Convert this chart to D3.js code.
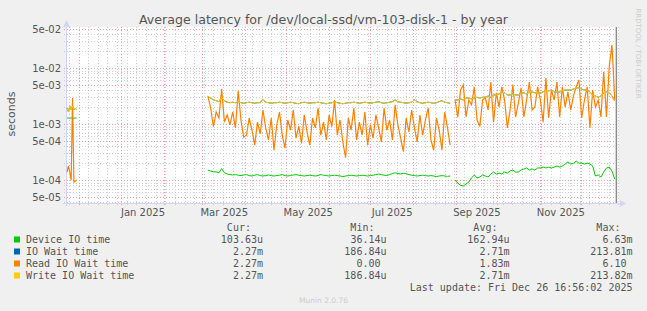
<!DOCTYPE html>
<html>
<head>
<meta charset="utf-8">
<script src="https://cdn.jsdelivr.net/npm/d3@7"></script>
<style>
  body { margin: 0; background: #f0f0f0; }
  svg { display: block; }
  text { font-family: "DejaVu Sans", sans-serif; fill: #555; }
  .mono { font-family: "DejaVu Sans Mono", monospace; font-size: 10px; }
</style>
</head>
<body>
<svg id="chart" width="647" height="311"></svg>
<script>
// three runs of data (the gaps have no samples)
const segStarts = ["2024-11-22T16:00", "2025-03-05T00:00", "2025-08-31T12:00"];
const segStepDays = [1, 2, 2];

// values in milliseconds, one array per run
const deviceIO = [
  [1.28, 1.28, 1.27, 1.28, 1.28, 1.27, 1.28, 1.28],
  [0.15, 0.145, 0.14, 0.14, 0.135, 0.16, 0.135, 0.128, 0.125, 0.123, 0.125, 0.122, 0.12, 0.123, 0.125, 0.12, 0.118, 0.122, 0.125, 0.12,
   0.118, 0.12, 0.123, 0.12, 0.118, 0.12, 0.122, 0.125, 0.12, 0.118, 0.12, 0.123, 0.125, 0.122, 0.12, 0.118, 0.12, 0.122, 0.12, 0.118,
   0.12, 0.125, 0.122, 0.12, 0.118, 0.12, 0.122, 0.12, 0.118, 0.115, 0.118, 0.12, 0.122, 0.12, 0.118, 0.12, 0.122, 0.12, 0.118, 0.12,
   0.122, 0.125, 0.128, 0.125, 0.122, 0.12, 0.125, 0.13, 0.135, 0.13, 0.128, 0.132, 0.13, 0.125, 0.122, 0.12, 0.118, 0.12, 0.122, 0.12,
   0.118, 0.12, 0.118, 0.115, 0.118, 0.12, 0.118, 0.116, 0.118],
  [0.1, 0.088, 0.081, 0.078, 0.085, 0.092, 0.109, 0.123, 0.109, 0.113, 0.123, 0.118, 0.113, 0.128, 0.139, 0.128, 0.133, 0.128, 0.139, 0.133,
   0.145, 0.151, 0.139, 0.139, 0.151, 0.157, 0.164, 0.151, 0.157, 0.151, 0.164, 0.164, 0.17, 0.164, 0.17, 0.164, 0.17, 0.178, 0.17, 0.178,
   0.193, 0.21, 0.193, 0.2, 0.218, 0.2, 0.2, 0.193, 0.2, 0.193, 0.178, 0.118, 0.123, 0.113, 0.139, 0.164, 0.17, 0.145, 0.104]
];

const readWait = [
  [0.139, 0.178, 0.139, 0.1, 2.9, 0.092, 0.096, 0.1],
  [3.16, 1.93, 0.9, 1.64, 1.28, 4.2, 1.08, 1.45, 0.96, 1.64, 0.85, 3.9, 1.18, 0.58, 0.63, 1.28, 0.78, 0.42, 1.08, 0.67,
   1.78, 0.85, 0.52, 1.28, 0.34, 0.96, 1.64, 0.63, 0.37, 1.18, 0.78, 1.78, 0.56, 0.92, 0.45, 1.45, 0.72, 0.42, 1.28, 0.85,
   1.93, 0.63, 1.08, 0.52, 1.45, 0.9, 2.68, 0.63, 1.18, 0.48, 0.25, 1.28, 0.78, 1.93, 0.52, 1.08, 0.63, 1.64, 0.42, 0.96,
   0.56, 1.45, 0.85, 0.48, 1.93, 0.78, 1.18, 0.52, 2.2, 0.96, 0.56, 0.32, 1.28, 0.72, 1.78, 0.85, 0.48, 1.45, 0.63, 1.18,
   1.93, 0.52, 0.34, 1.28, 0.78, 0.34, 1.64, 0.85, 0.42],
  [2.68, 1.33, 4.05, 5.0, 1.33, 2.68, 2.2, 4.6, 1.18, 0.9, 2.68, 3.0, 1.78, 5.6, 1.08, 3.6, 2.0, 4.6, 2.68, 0.85,
   1.78, 5.0, 1.33, 2.38, 4.4, 1.33, 2.68, 5.6, 1.78, 2.0, 4.6, 2.68, 1.08, 6.6, 1.28, 4.05, 2.68, 5.6, 1.33, 4.6,
   2.0, 3.73, 1.78, 3.16, 4.6, 6.1, 1.28, 2.68, 4.6, 0.85, 4.05, 2.0, 2.68, 1.33, 8.5, 1.33, 10.4, 25.8, 2.68]
];

const writeWait = [
  [1.93, 1.64, 2.1, 1.78, 2.1, 1.78, 1.93, 1.78],
  [3.1, 2.9, 2.7, 2.6, 2.5, 3.0, 2.6, 2.45, 2.4, 2.45, 2.4, 2.5, 2.4, 2.35, 2.4, 2.45, 2.4, 2.35, 2.4, 2.4,
   2.8, 2.45, 2.4, 2.35, 2.4, 2.4, 2.45, 2.4, 2.35, 2.4, 2.45, 2.4, 2.35, 2.3, 2.4, 2.45, 2.4, 2.35, 2.4, 2.4,
   2.45, 2.4, 2.35, 2.3, 2.35, 2.4, 2.5, 2.4, 2.35, 2.3, 2.35, 2.4, 2.4, 2.45, 2.4, 2.35, 2.4, 2.45, 2.4, 2.35,
   2.4, 2.45, 2.5, 2.4, 2.35, 2.4, 2.45, 2.5, 2.7, 2.5, 2.45, 2.4, 2.35, 2.4, 2.45, 2.7, 2.5, 2.4, 2.35, 2.4,
   2.45, 2.4, 2.35, 2.4, 2.5, 2.6, 2.45, 2.4, 2.35],
  [2.68, 2.68, 2.8, 2.68, 2.91, 2.91, 2.8, 2.91, 3.0, 2.91, 3.0, 3.0, 3.16, 3.0, 3.3, 3.3, 3.43, 3.73, 3.6, 3.3,
   3.3, 3.43, 3.3, 3.3, 3.6, 3.6, 3.43, 3.73, 3.73, 3.6, 3.6, 3.6, 3.73, 4.05, 3.9, 4.05, 3.73, 3.73, 3.73, 3.9,
   4.05, 4.05, 4.05, 4.2, 4.4, 4.4, 4.2, 4.05, 4.05, 3.73, 3.3, 3.16, 3.0, 3.16, 3.6, 3.73, 3.6, 3.16, 2.57]
];

// IO wait equals write wait at this resolution, so yellow covers the blue line
const ioWait = writeWait;

const legendLabels = ["Device IO time", "IO Wait time", "Read IO Wait time", "Write IO Wait time"];
const legendColors = ["#00cc00", "#0066b3", "#ff8000", "#ffcc00"];
const curVals = ["103.63u", "2.27m", "2.27m", "2.27m"];
const minVals = ["36.14u", "186.84u", "0.00", "186.84u"];
const avgVals = ["162.94u", "2.71m", "1.83m", "2.71m"];
const maxVals = ["6.63m", "213.81m", "6.10", "213.82m"];

const yTicks = [5e-5, 1e-4, 5e-4, 1e-3, 5e-3, 1e-2, 5e-2];
const yTickLabels = ["5e-05", "1e-04", "5e-04", "1e-03", "5e-03", "1e-02", "5e-02"];
const xLabelMonths = ["2025-01-01", "2025-03-01", "2025-05-01", "2025-07-01", "2025-09-01", "2025-11-01"];
const lastUpdate = "2025-12-26T16:56:02";

let svg = d3.select("#chart");
let plot = { left: 67, right: 619, top: 27, bottom: 203 };

let x = d3.scaleTime()
  .domain([new Date("2024-11-22T15:30"), new Date("2025-12-28T14:30")])
  .range([plot.left, plot.right]);
let y = d3.scaleLog().domain([3.89e-5, 0.0539]).range([plot.bottom, plot.top]);

svg.append("rect").attr("x", plot.left).attr("y", plot.top)
  .attr("width", plot.right - plot.left).attr("height", plot.bottom - plot.top)
  .attr("fill", "#fff");

let grid = svg.append("g").attr("shape-rendering", "crispEdges");

// minor horizontal grid
let minorY = [];
for (let k = -5; k <= -2; k++) {
  for (let m = 1; m <= 9; m++) {
    let v = m * Math.pow(10, k);
    if (v < y.domain()[0] || v > y.domain()[1]) continue;
    if (yTicks.some(t => Math.abs(t - v) / t < 1e-6)) continue;
    minorY.push(v);
  }
}
grid.selectAll(".hmin").data(minorY).enter().append("line")
  .attr("x1", plot.left - 3).attr("x2", plot.right)
  .attr("y1", d => Math.round(y(d)) + 0.5).attr("y2", d => Math.round(y(d)) + 0.5)
  .attr("stroke", "#cfcfcf").attr("stroke-dasharray", "1,2");

// minor vertical grid (weeks)
let weeks = d3.timeSunday.range(x.domain()[0], x.domain()[1]).filter(d => d.getDate() !== 1);
grid.selectAll(".vmin").data(weeks).enter().append("line")
  .attr("x1", d => Math.round(x(d)) + 0.5).attr("x2", d => Math.round(x(d)) + 0.5)
  .attr("y1", plot.top).attr("y2", plot.bottom + 3)
  .attr("stroke", "#cfcfcf").attr("stroke-dasharray", "1,2");

// major grid
grid.selectAll(".hmaj").data(yTicks).enter().append("line")
  .attr("x1", plot.left - 3).attr("x2", plot.right)
  .attr("y1", d => Math.round(y(d)) + 0.5).attr("y2", d => Math.round(y(d)) + 0.5)
  .attr("stroke", "#f0a0a0").attr("stroke-dasharray", "1,2");

let months = d3.timeMonth.range(x.domain()[0], x.domain()[1]);
grid.selectAll(".vmaj").data(months).enter().append("line")
  .attr("x1", d => Math.round(x(d)) + 0.5).attr("x2", d => Math.round(x(d)) + 0.5)
  .attr("y1", plot.top).attr("y2", plot.bottom + 3)
  .attr("stroke", "#f0a0a0").attr("stroke-dasharray", "1,2");

// axis lines + arrows
svg.append("line").attr("x1", plot.left - 4).attr("x2", plot.right + 2)
  .attr("y1", plot.bottom + 0.5).attr("y2", plot.bottom + 0.5).attr("stroke", "#cfd6f8");
svg.append("line").attr("x1", plot.left - 0.5).attr("x2", plot.left - 0.5)
  .attr("y1", plot.bottom + 3).attr("y2", plot.top - 2).attr("stroke", "#cfd6f8");
svg.append("path").attr("d", `M${plot.right + 1},${plot.bottom - 3}L${plot.right + 7},${plot.bottom + 0.5}L${plot.right + 1},${plot.bottom + 4}Z`)
  .attr("fill", "#cfd6f8");
svg.append("path").attr("d", `M${plot.left - 4},${plot.top}L${plot.left - 0.5},${plot.top - 7}L${plot.left + 3},${plot.top}Z`)
  .attr("fill", "#cfd6f8");

// axis labels
let xLabelDates = xLabelMonths.map(s => {
  let m = new Date(s + "T00:00");
  return new Date((+m + +d3.timeMonth.offset(m, 1)) / 2);
});
let xAxis = svg.append("g").attr("transform", `translate(0,${plot.bottom})`)
  .call(d3.axisBottom(x).tickValues(xLabelDates).tickSize(0).tickPadding(6).tickFormat(d3.timeFormat("%b %Y")));
xAxis.select(".domain").remove();
xAxis.selectAll("text").attr("font-size", 10).attr("font-family", "DejaVu Sans").attr("fill", "#555");

let yAxis = svg.append("g").attr("transform", `translate(${plot.left},0)`)
  .call(d3.axisLeft(y).tickValues(yTicks).tickSize(0).tickPadding(6).tickFormat((d, i) => yTickLabels[i]));
yAxis.select(".domain").remove();
yAxis.selectAll("text").attr("font-size", 10).attr("font-family", "DejaVu Sans").attr("fill", "#555");

svg.append("text").attr("transform", "translate(15,114) rotate(-90)")
  .attr("text-anchor", "middle").attr("font-size", 11).text("seconds");

svg.append("text").attr("x", 323.5).attr("y", 23.5).attr("text-anchor", "middle")
  .attr("font-size", 12.6).text("Average latency for /dev/local-ssd/vm-103-disk-1 - by year");

svg.append("text").attr("transform", "translate(637.5,53.5) rotate(90)")
  .attr("text-anchor", "middle").attr("dominant-baseline", "central")
  .attr("font-size", 7).style("fill", "#ccc").text("RRDTOOL / TOBI OETIKER");

// series
let line = d3.line().x(d => x(d.date)).y(d => y(d.value));
function toPoints(runs) {
  return runs.map((vals, s) => vals.map((v, i) => ({
    date: d3.timeDay.offset(new Date(segStarts[s]), i * segStepDays[s]),
    value: v / 1000
  })));
}
let series = [deviceIO, ioWait, readWait, writeWait];
let lines = svg.append("g");
series.forEach((runs, k) => {
  toPoints(runs).forEach(pts => {
    lines.append("path").datum(pts).attr("d", line)
      .attr("fill", "none").attr("stroke", legendColors[k]).attr("stroke-width", k === 2 ? 1.2 : 1);
  });
});

// last update marker
svg.append("line")
  .attr("x1", x(new Date(lastUpdate))).attr("x2", x(new Date(lastUpdate)))
  .attr("y1", plot.top).attr("y2", plot.bottom)
  .attr("stroke", "#8c8c8c").attr("stroke-width", 1.5);

// legend
let cw = 6.02;
let colEnds = [263, 386.5, 509.5, 632.5];
let legend = svg.append("g").attr("class", "mono");
["Cur:", "Min:", "Avg:", "Max:"].forEach((h, j) => {
  legend.append("text").attr("class", "mono").attr("x", colEnds[j] - 2 * cw).attr("y", 231)
    .attr("text-anchor", "end").text(h);
});
legendLabels.forEach((lab, i) => {
  let by = 243 + i * 12;
  legend.append("rect").attr("x", 14).attr("y", by - 6.5).attr("width", 6).attr("height", 6)
    .attr("fill", legendColors[i]);
  legend.append("text").attr("class", "mono").attr("x", 26).attr("y", by).text(lab);
  [curVals[i], minVals[i], avgVals[i], maxVals[i]].forEach((v, j) => {
    let end = /\d$/.test(v) ? colEnds[j] - cw : colEnds[j];
    legend.append("text").attr("class", "mono").attr("x", end).attr("y", by)
      .attr("text-anchor", "end").text(v);
  });
});
legend.append("text").attr("class", "mono").attr("x", 632.5).attr("y", 291)
  .attr("text-anchor", "end").text("Last update: Fri Dec 26 16:56:02 2025");

svg.append("text").attr("x", 323.5).attr("y", 303).attr("text-anchor", "middle")
  .attr("font-size", 7.5).style("fill", "#ccc").text("Munin 2.0.76");
</script>
</body>
</html>
